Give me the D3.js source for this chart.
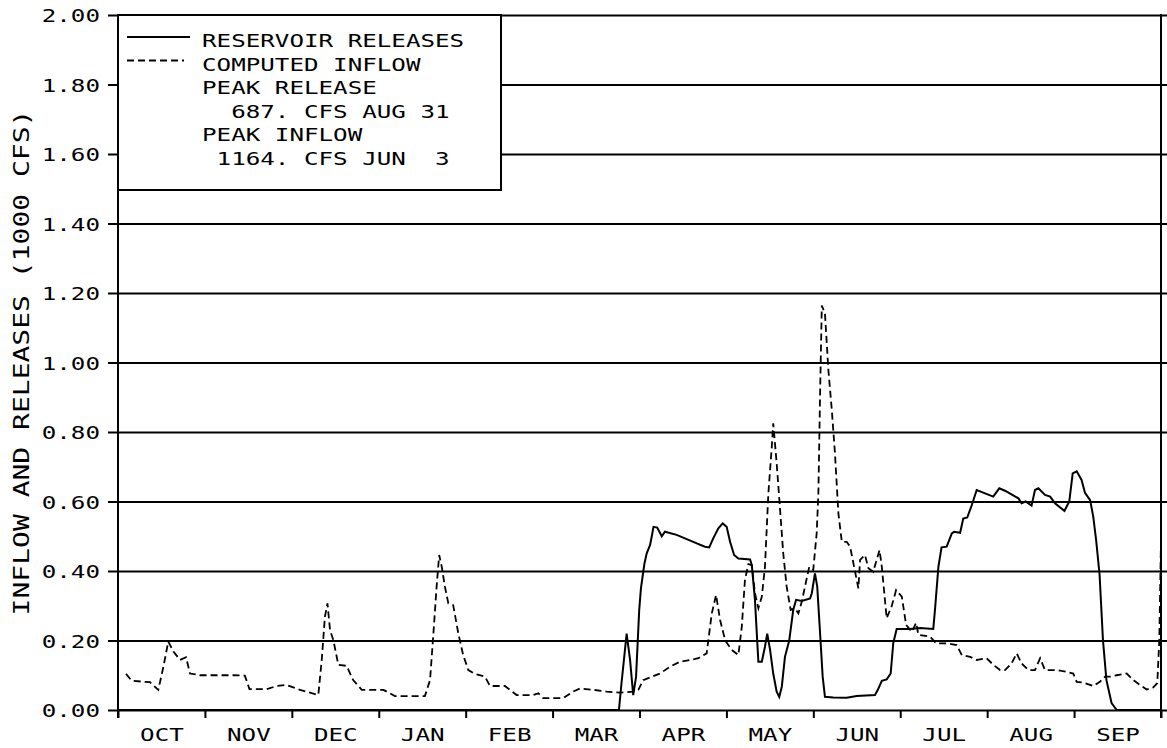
<!DOCTYPE html>
<html>
<head>
<meta charset="utf-8">
<script src="https://cdn.jsdelivr.net/npm/d3@7"></script>
<style>
  html, body { margin: 0; padding: 0; background: #fff; }
  svg { display: block; }
  text { font-family: "DejaVu Sans Mono", monospace; fill: #000; white-space: pre; }
</style>
</head>
<body>
<svg id="chart" width="1167" height="748"></svg>
<script>
// ---------------- DATA (values in 1000 CFS, x in day of water year) ----------------
const months = ["OCT","NOV","DEC","JAN","FEB","MAR","APR","MAY","JUN","JUL","AUG","SEP"];
const yTicks = [0, 0.2, 0.4, 0.6, 0.8, 1.0, 1.2, 1.4, 1.6, 1.8, 2.0];
const yTitle = "INFLOW AND RELEASES (1000 CFS)";
const legendItems = ["RESERVOIR RELEASES", "COMPUTED INFLOW"];
const legendNotes = ["PEAK RELEASE", "  687. CFS AUG 31", "PEAK INFLOW", " 1164. CFS JUN  3"];

const inflowDays = [2.8, 4.8, 11.2, 14.1, 15.9, 17.6, 19.4, 21.7, 23.8, 25.2, 28.7, 34.5, 40.4, 44.4, 46.0,
  52.0, 55.5, 59.0, 63.7, 67.2, 70.1, 71.3, 72.4, 73.3, 74.2, 75.4, 77.1, 80.0, 82.3, 85.3, 92.9, 96.9,
  107.4, 109.2, 110.3, 111.5, 112.4, 113.3, 114.4, 115.6, 117.3, 119.1, 120.8, 122.6, 124.9, 128.4, 130.2,
  135.4, 139.5, 145.3, 147.1, 148.8, 155.8, 159.3, 161.7, 166.3, 171.0, 175.7, 180.3, 182.1, 183.8, 186.2,
  189.7, 193.2, 196.7, 200.2, 203.1, 206.0, 207.8, 209.3, 210.7, 212.5, 214.8, 217.1, 218.3, 219.4, 220.6,
  221.8, 222.9, 224.1, 225.3, 226.4, 227.6, 228.8, 229.3, 230.5, 231.7, 232.8, 234.0, 235.4, 236.9, 238.1,
  239.3, 240.4, 241.9, 243.3, 244.5, 245.1, 245.7, 246.3, 247.4, 248.6, 249.8, 250.9, 252.1, 253.3, 255.0,
  256.2, 259.1, 259.7, 261.4, 262.6, 264.3, 266.5, 267.3, 269.0, 270.8, 272.3, 274.3, 275.8, 277.8, 279.3,
  280.1, 284.2, 286.3, 290.0, 293.5, 295.3, 298.2, 300.5, 304.0, 306.3, 308.7, 310.4, 312.7, 314.5, 316.2,
  318.6, 320.9, 322.7, 324.4, 328.5, 332.0, 334.3, 335.5, 337.8, 341.3, 343.6, 345.4, 347.2, 349.5, 353.0,
  355.3, 357.7, 360.0, 362.3, 363.7, 364.4, 365];
const inflowCfs = [0.104, 0.084, 0.080, 0.058, 0.125, 0.197, 0.168, 0.144, 0.152, 0.105, 0.100, 0.100, 0.100, 0.099, 0.060,
  0.060, 0.069, 0.072, 0.058, 0.050, 0.043, 0.144, 0.268, 0.307, 0.230, 0.200, 0.130, 0.127, 0.086, 0.058, 0.058, 0.040,
  0.040, 0.086, 0.211, 0.355, 0.446, 0.412, 0.355, 0.307, 0.302, 0.220, 0.158, 0.115, 0.104, 0.096, 0.069,
  0.069, 0.043, 0.043, 0.048, 0.034, 0.034, 0.053, 0.062, 0.058, 0.053, 0.050, 0.053, 0.058, 0.086, 0.094,
  0.105, 0.125, 0.139, 0.144, 0.149, 0.163, 0.278, 0.331, 0.259, 0.200, 0.173, 0.158, 0.240, 0.374, 0.420,
  0.417, 0.336, 0.293, 0.326, 0.412, 0.624, 0.758, 0.825, 0.710, 0.576, 0.451, 0.355, 0.288, 0.293, 0.278,
  0.312, 0.355, 0.412, 0.403, 0.508, 0.624, 0.911, 1.164, 1.141, 0.978, 0.863, 0.739, 0.566, 0.484, 0.484,
  0.470, 0.350, 0.432, 0.446, 0.408, 0.398, 0.460, 0.412, 0.264, 0.300, 0.345, 0.326, 0.245, 0.225, 0.251,
  0.216, 0.211, 0.192, 0.192, 0.187, 0.158, 0.153, 0.144, 0.149, 0.130, 0.115, 0.115, 0.134, 0.163, 0.134,
  0.115, 0.115, 0.149, 0.115, 0.115, 0.110, 0.105, 0.081, 0.079, 0.069, 0.081, 0.096, 0.096, 0.100, 0.105,
  0.086, 0.072, 0.059, 0.065, 0.077, 0.200, 0.490];

const releaseDays = [0, 175.3, 176.2, 178.0, 179.2, 180.3, 181.3, 182.4, 183.0, 184.2, 185.0, 186.2, 186.8, 187.4,
  188.7, 190.3, 191.4, 195.5, 201.3, 205.4, 206.9, 208.3, 210.1, 211.6, 213.0, 214.2, 215.6, 217.1, 221.2,
  221.8, 222.9, 224.1, 225.3, 226.4, 227.2, 228.2, 229.3, 230.5, 231.4, 232.3, 233.4, 234.9, 236.3, 237.3,
  239.3, 242.2, 242.8, 243.9, 244.7, 245.7, 246.6, 247.4, 250.3, 255.0, 258.5, 264.9, 265.9, 267.3, 269.0,
  270.4, 271.3, 272.5, 277.2, 280.7, 285.3, 285.9, 287.1, 288.2, 290.0, 291.8, 292.6, 294.7, 295.8, 297.2,
  298.8, 300.5, 306.3, 308.4, 310.4, 315.1, 316.2, 317.6, 319.7, 320.9, 322.1, 324.4, 326.2, 327.9, 331.2,
  332.9, 334.1, 335.5, 337.2, 338.4, 340.2, 341.3, 342.3, 343.5, 344.7, 345.9, 347.7, 349.5, 365];
const releaseCfs = [0, 0, 0.077, 0.220, 0.144, 0.043, 0.096, 0.288, 0.350, 0.420, 0.450, 0.475, 0.500, 0.527,
  0.525, 0.500, 0.513, 0.504, 0.484, 0.470, 0.468, 0.494, 0.523, 0.537, 0.527, 0.484, 0.446, 0.436, 0.433,
  0.417, 0.317, 0.139, 0.139, 0.182, 0.220, 0.173, 0.105, 0.053, 0.038, 0.067, 0.153, 0.200, 0.288, 0.317,
  0.314, 0.321, 0.336, 0.393, 0.355, 0.220, 0.096, 0.038, 0.036, 0.035, 0.040, 0.043, 0.058, 0.084, 0.088,
  0.105, 0.192, 0.233, 0.233, 0.236, 0.233, 0.288, 0.412, 0.468, 0.470, 0.508, 0.513, 0.510, 0.551, 0.554,
  0.590, 0.633, 0.614, 0.638, 0.631, 0.609, 0.595, 0.600, 0.588, 0.633, 0.638, 0.619, 0.614, 0.595, 0.573,
  0.600, 0.681, 0.687, 0.662, 0.625, 0.604, 0.556, 0.489, 0.390, 0.200, 0.086, 0.020, 0.000, 0.000];

// ---------------- LAYOUT ----------------
const L = 118, R = 1161, T = 15, B = 710, EDGE = 1167;
const SX = 1.36;           // horizontal stretch of the plotter lettering
const FS = 17.8;           // font size for tick labels / legend
const svg = d3.select("#chart");

const x = d3.scaleLinear().domain([0, 365]).range([L, R]);
const y = d3.scaleLinear().domain([0, 2]).range([B, T]);
const monthLen = 365 / 12;
const boundaries = d3.range(13).map(i => i * monthLen);
const mids = d3.range(12).map(i => (i + 0.5) * monthLen);

// y axis with gridlines
const yAxis = svg.append("g").attr("transform", `translate(${L},0)`)
  .call(d3.axisLeft(y).tickValues(yTicks).tickFormat(d3.format(".2f")).tickSize(10).tickPadding(0));
yAxis.select(".domain").remove();
yAxis.selectAll(".tick line").attr("x1", -10).attr("x2", EDGE - L)
  .attr("stroke", "#000").attr("stroke-width", 2);
yAxis.selectAll(".tick text")
  .attr("x", 0).attr("dy", 0).attr("y", 0)
  .attr("text-anchor", "end")
  .style("font-size", FS + "px")
  .attr("transform", `translate(-18,6.5) scale(${SX},1)`);

// x axis: month boundary ticks
const xAxis = svg.append("g").attr("transform", `translate(0,${B})`)
  .call(d3.axisBottom(x).tickValues(boundaries).tickFormat("").tickSize(8));
xAxis.select(".domain").remove();
xAxis.selectAll(".tick line").attr("stroke", "#000").attr("stroke-width", 2);

// month labels
const xLab = svg.append("g").attr("transform", `translate(0,${B})`)
  .call(d3.axisBottom(x).tickValues(mids).tickFormat((d, i) => months[i]).tickSize(0));
xLab.select(".domain").remove();
xLab.selectAll(".tick text")
  .attr("y", 0).attr("dy", 0)
  .style("font-size", FS + "px")
  .attr("transform", `translate(0,31) scale(${SX},1)`);

// frame
svg.append("line").attr("x1", L).attr("x2", L).attr("y1", T - 1).attr("y2", B + 8)
  .attr("stroke", "#000").attr("stroke-width", 2);
svg.append("line").attr("x1", R).attr("x2", R).attr("y1", T - 1).attr("y2", B + 8)
  .attr("stroke", "#000").attr("stroke-width", 2);

// y title
svg.append("g").attr("transform", `translate(28.5,${(T + B) / 2 + 0}) rotate(-90) scale(${SX},1)`)
  .append("text").attr("text-anchor", "middle").attr("x", 0).attr("y", 0)
  .style("font-size", "20.6px").text(yTitle);

// curves
const line = d3.line().x(d => x(d[0])).y(d => y(d[1]));
const inflow = inflowDays.map((d, i) => [d, inflowCfs[i]]);
const release = releaseDays.map((d, i) => [d, releaseCfs[i]]);
svg.append("path").datum(inflow).attr("d", line)
  .attr("fill", "none").attr("stroke", "#000").attr("stroke-width", 1.8)
  .attr("stroke-dasharray", "7,4");
svg.append("path").datum(release).attr("d", line)
  .attr("fill", "none").attr("stroke", "#000").attr("stroke-width", 2);

// legend box
const lg = svg.append("g");
lg.append("rect").attr("x", L).attr("y", T).attr("width", 501 - L).attr("height", 190 - T)
  .attr("fill", "#fff").attr("stroke", "#000").attr("stroke-width", 2);
lg.append("line").attr("x1", 127).attr("x2", 190).attr("y1", 37).attr("y2", 37)
  .attr("stroke", "#000").attr("stroke-width", 2);
lg.append("line").attr("x1", 127).attr("x2", 184).attr("y1", 60.5).attr("y2", 60.5)
  .attr("stroke", "#000").attr("stroke-width", 1.8).attr("stroke-dasharray", "7,4");
const lines = legendItems.concat(legendNotes);
lines.forEach((t, i) => {
  lg.append("g").attr("transform", `translate(202,${47 + i * 23.6}) scale(${SX},1)`)
    .append("text").attr("x", 0).attr("y", 0).style("font-size", FS + "px").text(t);
});
</script>
</body>
</html>
